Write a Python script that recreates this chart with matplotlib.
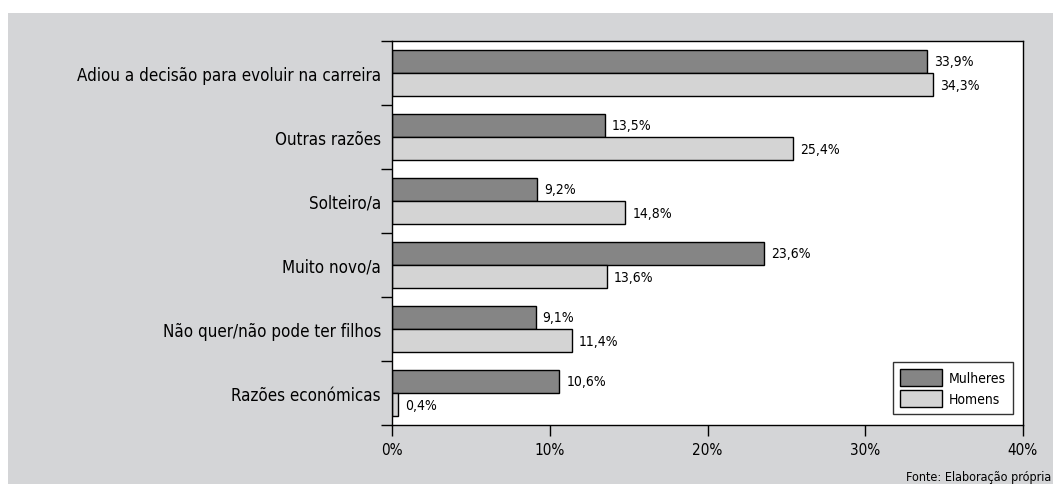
import matplotlib
matplotlib.use("Agg")

import matplotlib.pyplot as plt
import numpy as np
from matplotlib.patches import Rectangle
from matplotlib import font_manager

categories = [
    "Adiou a decisão para evoluir na carreira",
    "Outras razões",
    "Solteiro/a",
    "Muito novo/a",
    "Não quer/não pode ter filhos",
    "Razões económicas",
]
mulheres = [33.9, 13.5, 9.2, 23.6, 9.1, 10.6]
homens = [34.3, 25.4, 14.8, 13.6, 11.4, 0.4]
xticks = [0, 10, 20, 30, 40]

# prefer a narrow face if one is installed
condensed = [f for f in font_manager.fontManager.ttflist
             if f.stretch in ("condensed", "semi-condensed", 375, 300)
             or "Condensed" in f.fname or "Narrow" in f.fname]
if condensed:
    fam = condensed[0].name
    plt.rcParams["font.family"] = [fam, "DejaVu Sans"]
    plt.rcParams["font.stretch"] = "condensed"
else:
    plt.rcParams["font.family"] = ["DejaVu Sans"]

BG = "#d4d5d7"
DARK = "#858585"
LIGHT = "#d4d4d4"

fig = plt.figure(figsize=(10.53, 4.85), dpi=100)
fig.patch.set_facecolor("white")
fig.add_artist(Rectangle((8 / 1053, 0), 1 - 8 / 1053, 1 - 14 / 485,
                         transform=fig.transFigure, facecolor=BG,
                         edgecolor="none", zorder=-10))

ax = fig.add_axes([392 / 1053, 1 - 426 / 485, (1023 - 392) / 1053, (426 - 42) / 485])
ax.set_facecolor("white")

n = len(categories)
y = np.arange(n)
h = 0.36
ax.barh(y - h / 2, mulheres, height=h, color=DARK, edgecolor="black",
        linewidth=1, label="Mulheres")
ax.barh(y + h / 2, homens, height=h, color=LIGHT, edgecolor="black",
        linewidth=1, label="Homens")

for i in range(n):
    ax.text(mulheres[i] + 0.45, y[i] - h / 2, f"{mulheres[i]:.1f}%".replace(".", ","),
            va="center", ha="left", fontsize=10)
    ax.text(homens[i] + 0.45, y[i] + h / 2, f"{homens[i]:.1f}%".replace(".", ","),
            va="center", ha="left", fontsize=10)

ax.set_ylim(n - 0.5, -0.5)
ax.set_xlim(0, 40)
ax.set_xticks(xticks)
ax.set_xticklabels([f"{v}%" for v in xticks], fontsize=11)
ax.set_yticks(np.arange(n + 1) - 0.5)
ax.set_yticklabels([])
ax.set_yticks(y, minor=True)
ax.set_yticklabels(categories, minor=True, fontsize=12.2)
ax.tick_params(axis="y", which="minor", length=0, pad=8)
ax.tick_params(axis="y", which="major", length=8, width=1)
ax.tick_params(axis="x", length=8, width=1, pad=4)
for s in ax.spines.values():
    s.set_linewidth(1)

leg = ax.legend(loc="lower right", bbox_to_anchor=(0.984, 0.029), fontsize=10,
                frameon=True, fancybox=False, edgecolor="black",
                handlelength=3.0, handleheight=1.5, borderpad=0.5,
                labelspacing=0.3, handletextpad=0.5, borderaxespad=0)
leg.get_frame().set_linewidth(1)

fig.text(1051 / 1053, 1 - 478 / 485, "Fonte: Elaboração própria", fontsize=9,
         ha="right", va="center")

fig.savefig("out.png", dpi=100)
